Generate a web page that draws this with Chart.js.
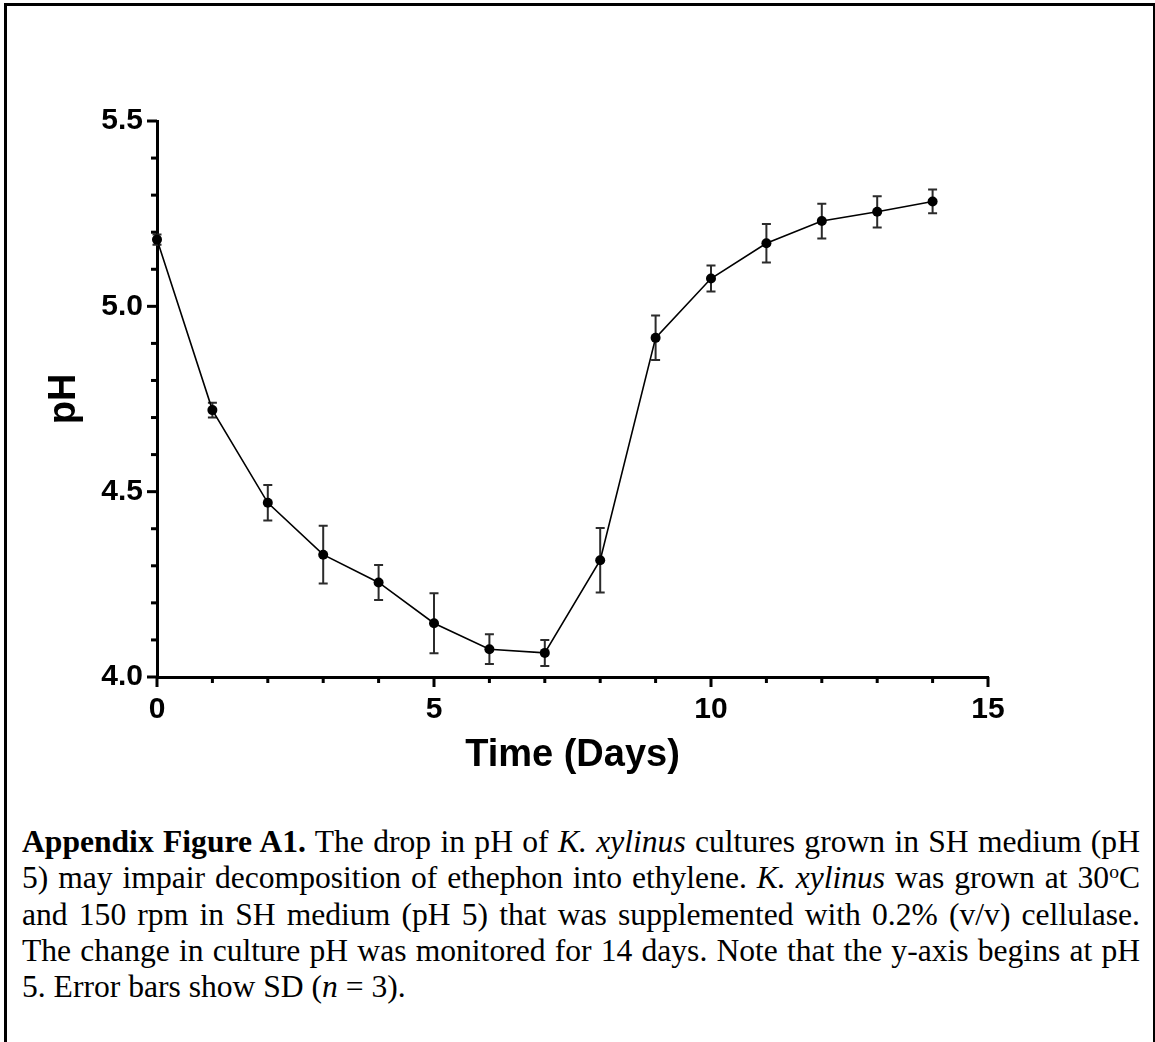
<!DOCTYPE html>
<html>
<head>
<meta charset="utf-8">
<script src="https://cdn.jsdelivr.net/npm/chart.js@4.4.1/dist/chart.umd.min.js"></script>
<style>
html,body{margin:0;padding:0;background:#fff;}
body{width:1155px;height:1042px;position:relative;overflow:hidden;}
#frame{position:absolute;left:4px;top:3px;width:1151px;height:1100px;box-sizing:border-box;border-left:3px solid #000;border-top:3px solid #000;border-right:2px solid #000;}
#wrap{position:absolute;left:0;top:0;width:1155px;height:800px;}
#caption{position:absolute;left:22px;top:824px;width:1118px;
  font-family:"Liberation Serif","Times New Roman",serif;font-size:31.6px;line-height:36.3px;color:#000;}
#caption .l{text-align:justify;text-align-last:justify;}
#caption .last{text-align:left;}
#caption sup{font-size:0.62em;vertical-align:0.5em;line-height:0;}
</style>
</head>
<body>
<div id="frame"></div>
<div id="wrap"><canvas id="c" width="1155" height="800"></canvas></div>
<div id="caption">
<div class="l"><b>Appendix Figure A1.</b> The drop in pH of <i>K. xylinus</i> cultures grown in SH medium (pH</div>
<div class="l">5) may impair decomposition of ethephon into ethylene. <i>K. xylinus</i> was grown at 30<sup>o</sup>C</div>
<div class="l">and 150 rpm in SH medium (pH 5) that was supplemented with 0.2% (v/v) cellulase.</div>
<div class="l">The change in culture pH was monitored for 14 days. Note that the y-axis begins at pH</div>
<div class="last">5. Error bars show SD (<i>n</i> = 3).</div>
</div>
<script>
const days = [0,1,2,3,4,5,6,7,8,9,10,11,12,13,14];
const phMean = [5.18,4.72,4.47,4.33,4.255,4.145,4.075,4.065,4.315,4.915,5.075,5.17,5.23,5.255,5.283];
const phSD = [0.014,0.02,0.048,0.078,0.047,0.081,0.04,0.035,0.087,0.06,0.035,0.052,0.047,0.042,0.032];
const xMajorTicks = [0,5,10,15];
const yMajorTicks = [4.0,4.5,5.0,5.5];
const xLabel = 'Time (Days)';
const yLabel = 'pH';

// keep each caption line on one line
(function fitCaption(){
  const cap = document.getElementById('caption');
  let fs = 31.6;
  const lines = cap.querySelectorAll('div');
  const tooTall = () => Array.from(lines).some(d => d.getBoundingClientRect().height > 40);
  while (tooTall() && fs > 24) { fs -= 0.2; cap.style.fontSize = fs + 'px'; }
})();

const FONT = '"Liberation Sans", Arial, sans-serif';
Chart.defaults.font.family = FONT;
Chart.defaults.color = '#000';

const isMajor = (v, list) => list.some(m => Math.abs(m - v) < 1e-6);

const errorBars = {
  id: 'errorBars',
  beforeDatasetsDraw(chart) {
    const {ctx, scales:{x, y}} = chart;
    ctx.save();
    ctx.strokeStyle = '#2b2b2b';
    ctx.lineWidth = 2;
    const cap = 4.5;
    days.forEach((d, i) => {
      const px = x.getPixelForValue(d);
      const top = y.getPixelForValue(phMean[i] + phSD[i]);
      const bot = y.getPixelForValue(phMean[i] - phSD[i]);
      ctx.beginPath();
      ctx.moveTo(px, top); ctx.lineTo(px, bot);
      ctx.moveTo(px - cap, top); ctx.lineTo(px + cap, top);
      ctx.moveTo(px - cap, bot); ctx.lineTo(px + cap, bot);
      ctx.stroke();
    });
    ctx.restore();
  }
};

const axisTicks = {
  id: 'axisTicks',
  afterDraw(chart) {
    const {ctx, scales:{x, y}, chartArea} = chart;
    ctx.save();
    ctx.strokeStyle = '#000';
    ctx.lineWidth = 3;
    ctx.lineCap = 'butt';
    y.ticks.forEach(t => {
      const py = y.getPixelForValue(t.value);
      const len = isMajor(t.value, yMajorTicks) ? 10 : 6;
      ctx.beginPath();
      ctx.moveTo(chartArea.left - len, py);
      ctx.lineTo(chartArea.left, py);
      ctx.stroke();
    });
    x.ticks.forEach(t => {
      const px = x.getPixelForValue(t.value);
      const len = isMajor(t.value, xMajorTicks) ? 10 : 6;
      ctx.beginPath();
      ctx.moveTo(px, chartArea.bottom);
      ctx.lineTo(px, chartArea.bottom + len);
      ctx.stroke();
    });
    ctx.restore();
  }
};

new Chart(document.getElementById('c'), {
  type: 'scatter',
  data: {
    datasets: [{
      data: days.map((d, i) => ({x: d, y: phMean[i]})),
      showLine: true,
      borderColor: '#000',
      borderWidth: 1.6,
      backgroundColor: '#000',
      pointBackgroundColor: '#000',
      pointBorderWidth: 0,
      pointRadius: 5,
      clip: false
    }]
  },
  options: {
    responsive: false,
    animation: false,
    devicePixelRatio: 1,
    layout: {padding: {left: 42, top: 121, right: 167, bottom: 22}},
    plugins: {legend: {display: false}, tooltip: {enabled: false}},
    scales: {
      x: {
        type: 'linear', min: 0, max: 15,
        afterFit(s) { s.height = 101; },
        grid: {display: true, drawOnChartArea: false, drawTicks: false},
        border: {display: true, color: '#000', width: 3},
        ticks: {
          stepSize: 1, autoSkip: false, maxRotation: 0, padding: 15,
          font: {size: 30, weight: 'bold'}, color: '#000',
          callback: v => isMajor(v, xMajorTicks) ? String(v) : ''
        },
        title: {display: true, text: xLabel, padding: 0, font: {size: 38, weight: 'bold'}, color: '#000'}
      },
      y: {
        type: 'linear', min: 4.0, max: 5.5,
        afterFit(s) { s.width = 115; },
        grid: {display: true, drawOnChartArea: false, drawTicks: false},
        border: {display: true, color: '#000', width: 3},
        ticks: {
          stepSize: 0.1, autoSkip: false, padding: 14,
          font: {size: 30, weight: 'bold'}, color: '#000',
          callback: v => isMajor(v, yMajorTicks) ? Number(v).toFixed(1) : ''
        },
        title: {display: true, text: yLabel, padding: 0, font: {size: 38, weight: 'bold'}, color: '#000'}
      }
    }
  },
  plugins: [errorBars, axisTicks]
});
</script>
</body>
</html>
